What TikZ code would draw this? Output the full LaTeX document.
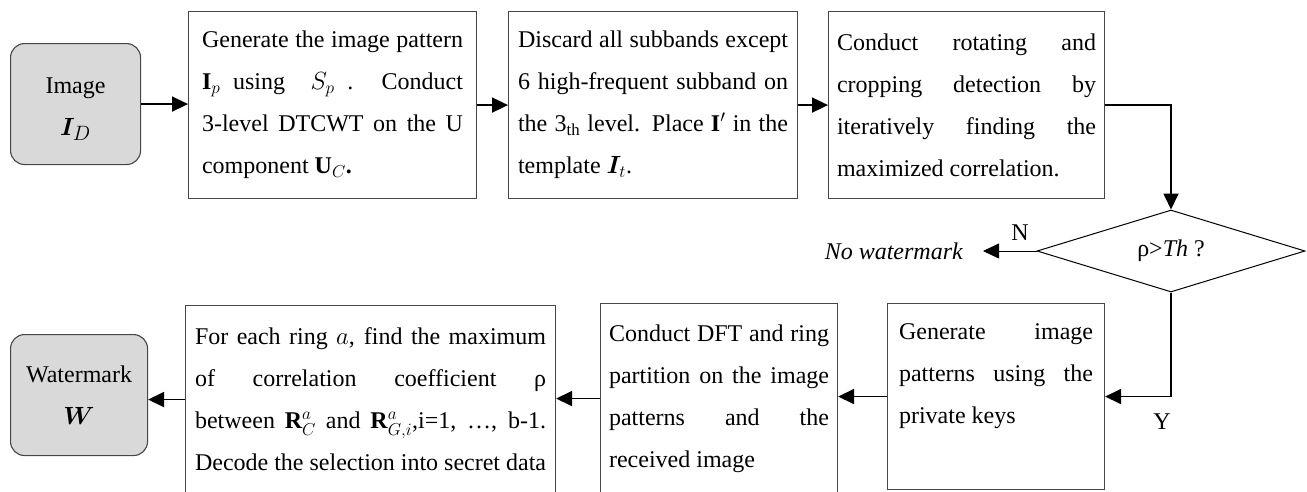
\documentclass[tikz,border=0pt]{standalone}
\usepackage{amsmath,bm}
\usepackage{fontspec}
\setmainfont{Liberation Serif}
\usetikzlibrary{arrows.meta,shapes.geometric}
\definecolor{termgray}{RGB}{217,217,217}
\definecolor{edgegray}{RGB}{70,70,70}
\newcommand\bodyfont{\fontsize{24}{42}\selectfont}
\newcommand\nobreakwords{\hyphenpenalty=10000\relax\exhyphenpenalty=10000\relax\tolerance=10000\relax}

\begin{document}
\begin{tikzpicture}[x=1pt,y=-1pt,
  proc/.style={font=\bodyfont\nobreakwords, draw=edgegray, line width=1.1pt, anchor=north west,
    inner ysep=0pt, align=justify},
  term/.style={font=\bodyfont, draw=edgegray, line width=1.1pt, fill=termgray,
    rounded corners=14pt, anchor=north west, align=center, inner sep=0pt},
  decision/.style={font=\bodyfont, draw=black, line width=1pt, shape=diamond,
    aspect=3.27, inner sep=0pt, minimum width=268pt, minimum height=82pt},
  flow/.style={line width=1.8pt, -{Triangle[length=16pt,width=15pt]}},
  flowthin/.style={line width=0.8pt, -{Triangle[length=16pt,width=15pt]}},
  lbl/.style={font=\bodyfont, inner sep=0pt}]

\useasboundingbox (0,0) rectangle (1307,491);
\clip (0,0) rectangle (1307,491);

% start and end terminals
\node[term, minimum width=130pt, minimum height=121pt, text height=68pt] (img) at (10,43)
  {Image\\\fontsize{30}{30}\selectfont$\bm{I}_D$};
\node[term, minimum width=137pt, minimum height=121pt] (wm) at (10,334)
  {Watermark\\$\bm{W}$};

% top row of processing steps
\node[proc, text width=261pt, inner xsep=13.5pt, minimum height=187pt] (b1) at (188,11)
  {Generate the image pattern\linebreak
   $\mathbf{I}_p$ using\ \ $S_p$\ . Conduct\linebreak
   3-level DTCWT on the U\linebreak
   component $\mathbf{U}_C$\textbf{.}};
\node[proc, text width=270pt, inner xsep=9.5pt, minimum height=187pt] (b2) at (508,11)
  {Discard all subbands except\linebreak
   6 high-frequent subband on\linebreak
   the 3\textsubscript{th} level. Place $\mathbf{I}'$ in the\linebreak
   template $\bm{I}_t$.};
\node[proc, text width=259pt, inner xsep=8.5pt, minimum height=187pt] (b3) at (828,11)
  {Conduct rotating and\linebreak
   cropping detection by\linebreak
   iteratively finding the\linebreak
   maximized correlation.};

% decision
\node[decision] (dia) at (1171,251) {ρ>\textit{Th} ?};
\node[lbl, font=\bodyfont\itshape, anchor=east] (nowm) at (963,251) {No watermark};
\node[lbl] (nlab) at (1020,233) {N};
\node[lbl] (ylab) at (1162,422) {Y};

% bottom row of processing steps
\node[proc, text width=194pt, inner xsep=11.5pt, minimum height=186pt, text depth=131pt] (b6) at (887,303)
  {Generate image\linebreak
   patterns using the\linebreak
   private keys};
\node[proc, text width=220pt, inner xsep=8.5pt, minimum height=190pt] (b5) at (600,303)
  {Conduct DFT and ring\linebreak
   partition on the image\linebreak
   patterns and the\linebreak
   received image};
\node[proc, text width=351pt, inner xsep=9.5pt, minimum height=188pt] (b4) at (185,305)
  {For each ring $a$, find the maximum\linebreak
   of correlation coefficient ρ\linebreak
   between $\mathbf{R}^a_C$ and $\mathbf{R}^a_{G,i}$,i=1, …, b-1.\linebreak
   Decode the selection into secret data};

% connectors
\draw[flow] (img.east) -- (img.east -| b1.west);
\draw[flow] (b1.east) -- (b2.west);
\draw[flow] (b2.east) -- (b3.west);
\draw[flow] (b3.east) -| (dia.north);
\draw[flowthin] (dia.west) -- ([xshift=20pt]nowm.east);
\draw[flow] (dia.south) |- (b6.east);
\draw[flow] (b6.west) -- (b6.west -| b5.east);
\draw[flow] (b5.west) -- (b5.west -| b4.east);
\draw[flow] (b4.west) -- (b4.west -| wm.east);
\end{tikzpicture}
\end{document}
